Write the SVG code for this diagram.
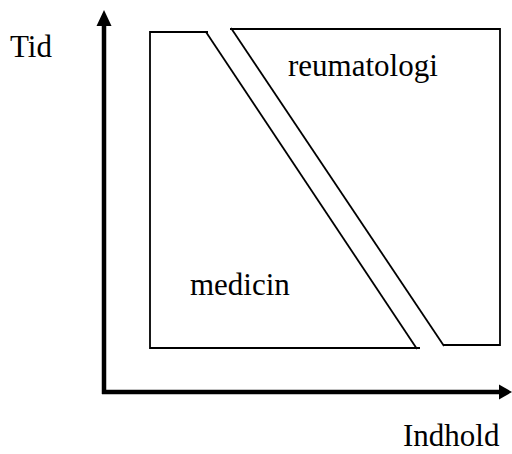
<svg xmlns="http://www.w3.org/2000/svg" width="512" height="454" viewBox="0 0 512 454">
<style>
.t{font-family:"Liberation Serif","Times New Roman","DejaVu Serif",serif;font-size:31px;fill:#000}
.s{fill:none;stroke:#000;stroke-width:1.8}
.ax{stroke:#000;stroke-width:4.5;fill:none}
</style>
<rect width="512" height="454" fill="#fff"/>
<g id="axes">
<line class="ax" x1="104" y1="394" x2="104" y2="24"/>
<polygon points="104,10 96.5,26 111.5,26"/>
<line class="ax" x1="102" y1="392" x2="500" y2="392"/>
<polygon points="512,392 499,384.5 499,399.5"/>
</g>
<g id="medicin">
<polyline class="s" points="208,32 150,32 150,348 420,348"/>
<line class="s" x1="206" y1="32" x2="417" y2="349"/>
<text class="t" x="190" y="295">medicin</text>
</g>
<g id="reumatologi">
<polyline class="s" points="230,29 500,29 500,345 443,345"/>
<line class="s" x1="231" y1="28" x2="444" y2="346"/>
<text class="t" x="288" y="76">reumatologi</text>
</g>
<text class="t" x="10" y="57">Tid</text>
<text class="t" x="403" y="446">Indhold</text>
</svg>
